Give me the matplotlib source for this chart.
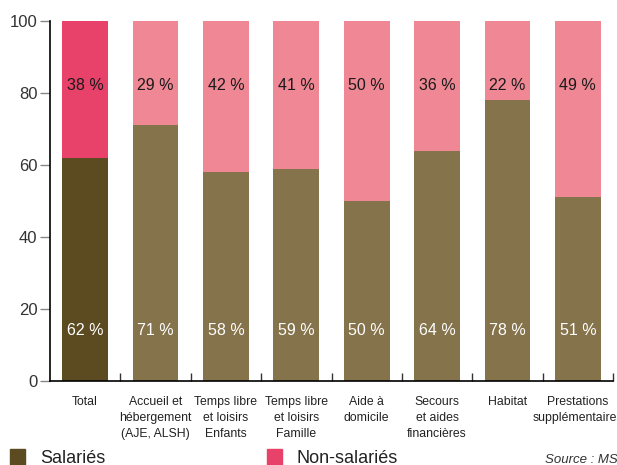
import numpy as np
import matplotlib.pyplot as plt
from matplotlib.patches import Rectangle

plt.rcParams['font.family'] = ['Liberation Sans', 'DejaVu Sans']

# Data
categories = ["Total", "Accueil et\nhébergement\n(AJE, ALSH)", "Temps libre\net loisirs\nEnfants",
              "Temps libre\net loisirs\nFamille", "Aide à\ndomicile", "Secours\net aides\nfinancières",
              "Habitat", "Prestations\nsupplémentaires"]
salaries = [62, 71, 58, 59, 50, 64, 78, 51]
non_salaries = [38, 29, 42, 41, 50, 36, 22, 49]

# Colours (the Total bar is darker)
sal_colors = ["#5c4a20"] + ["#85734b"] * 7
non_colors = ["#e8416a"] + ["#ef8794"] * 7

fig = plt.figure(figsize=(6.17, 4.65), dpi=100)
ax = fig.add_axes([50 / 617, 1 - 381 / 465, 563 / 617, 360 / 465])

x = np.arange(len(categories))
ax.bar(x, salaries, width=0.65, color=sal_colors)
ax.bar(x, non_salaries, width=0.65, bottom=salaries, color=non_colors)

for xi, s, n in zip(x, salaries, non_salaries):
    ax.text(xi, 14, f"{s} %", ha="center", va="center", color="white", fontsize=11.5)
    ax.text(xi, 82, f"{n} %", ha="center", va="center", color="#1a1a1a", fontsize=11.5)

ax.set_xlim(-0.5, len(categories) - 0.5)
ax.set_ylim(0, 100)
ax.set_yticks(range(0, 101, 20))
ax.tick_params(axis="y", direction="out", length=7, width=1, color="#888888",
               labelsize=12, labelcolor="#333333", pad=2)

ax.set_xticks(x)
ax.set_xticklabels(categories, fontsize=8.8, color="#222222", va="top", linespacing=1.45)
ax.tick_params(axis="x", which="major", length=0, pad=11)
ax.set_xticks(np.arange(0.5, len(categories)), minor=True)
ax.tick_params(axis="x", which="minor", direction="in", length=6, width=1, color="#333333")

for side in ["top", "right"]:
    ax.spines[side].set_visible(False)
for side in ["left", "bottom"]:
    ax.spines[side].set_color("black")
    ax.spines[side].set_linewidth(1.2)

# Legend drawn at the bottom
fig.patches.append(Rectangle((10 / 617, 1 - 466 / 465), 15 / 617, 17 / 465,
                             transform=fig.transFigure, color="#5c4a20"))
fig.text(40 / 617, 1 - 458 / 465, "Salariés", fontsize=13, va="center", color="#222222")
fig.patches.append(Rectangle((267 / 617, 1 - 466 / 465), 15 / 617, 17 / 465,
                             transform=fig.transFigure, color="#e8416a"))
fig.text(297 / 617, 1 - 458 / 465, "Non-salariés", fontsize=13, va="center", color="#222222")
fig.text(545 / 617, 1 - 460 / 465, "Source : MS", fontsize=9.5, style="italic",
         va="center", color="#333333")

fig.savefig("out.png", dpi=100)
